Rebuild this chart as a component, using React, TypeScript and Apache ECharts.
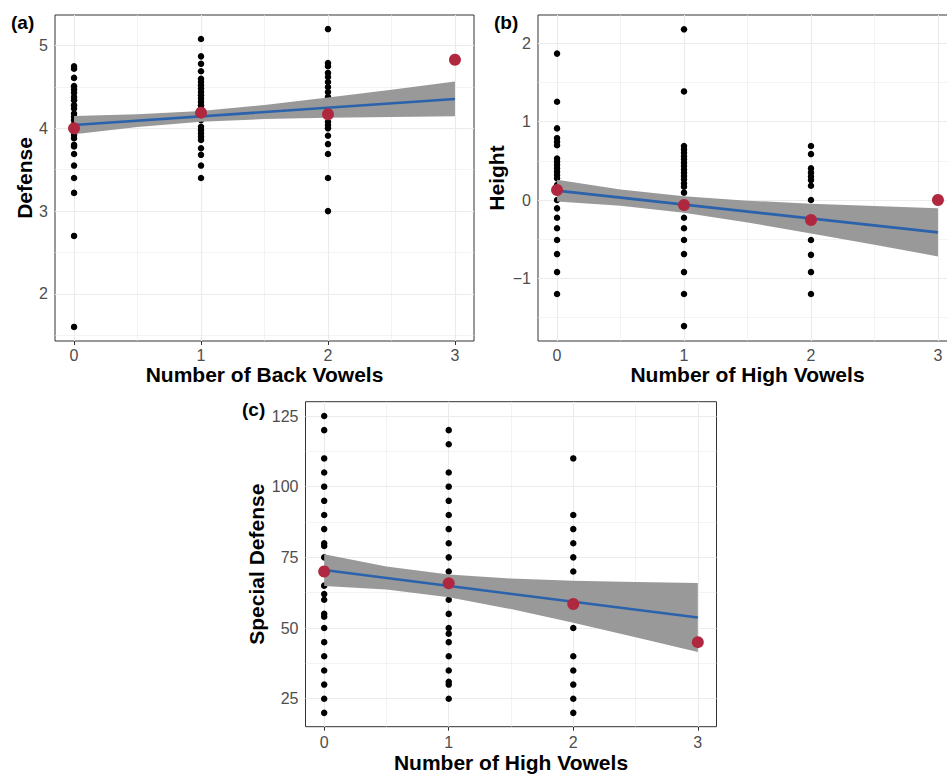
import React, { useEffect, useRef } from "react";
import * as echarts from "echarts";

// ---------- axis ticks / grid ----------
const xTicks = [0, 1, 2, 3];
const xMinor = [0.5, 1.5, 2.5];
const xRange = [-0.15, 3.15];

// (a) Defense vs Number of Back Vowels
const aTicks = [2, 3, 4, 5];
const aMinor = [1.5, 2.5, 3.5, 4.5];
const aRange = [1.43, 5.37];
const aPts0 = [4.75, 4.72, 4.61, 4.51, 4.47, 4.43, 4.38, 4.34, 4.28, 4.24, 4.18, 4.14, 4.1, 4.05, 4.0, 3.96, 3.92, 3.88, 3.8, 3.78, 3.69, 3.55, 3.4, 3.22, 2.7, 1.6];
const aPts1 = [5.08, 4.87, 4.78, 4.69, 4.6, 4.56, 4.52, 4.48, 4.44, 4.4, 4.36, 4.32, 4.28, 4.24, 4.19, 4.14, 4.1, 4.02, 3.98, 3.94, 3.9, 3.86, 3.76, 3.68, 3.55, 3.4];
const aPts2 = [5.2, 4.79, 4.75, 4.67, 4.62, 4.56, 4.5, 4.44, 4.38, 4.32, 4.14, 4.08, 4.04, 4.0, 3.91, 3.81, 3.69, 3.4, 3.0];
const aMeans = [4.0, 4.19, 4.17, 4.83];
const aFit = [4.04, 4.355];
const bandX = [0, 0.5, 1, 1.5, 2, 2.5, 3];
const aLo = [3.93, 4.016, 4.08, 4.112, 4.128, 4.138, 4.145];
const aHi = [4.15, 4.169, 4.21, 4.283, 4.372, 4.467, 4.565];

// (b) Height vs Number of High Vowels
const bTicks = [-1, 0, 1, 2];
const bMinor = [-1.5, -0.5, 0.5, 1.5];
const bRange = [-1.8, 2.363];
const bPts0 = [1.87, 1.255, 0.915, 0.79, 0.745, 0.7, 0.53, 0.49, 0.447, 0.404, 0.36, 0.32, 0.277, 0.19, 0.13, 0, -0.106, -0.226, -0.36, -0.51, -0.69, -0.92, -1.2];
const bPts1 = [2.18, 1.387, 0.69, 0.647, 0.604, 0.56, 0.52, 0.477, 0.434, 0.39, 0.35, 0.306, 0.264, 0.213, 0.17, 0.094, -0.226, -0.36, -0.51, -0.69, -0.92, -1.2, -1.61];
const bPts2 = [0.69, 0.587, 0.404, 0.35, 0.3, 0.255, 0.183, 0, -0.51, -0.7, -0.92, -1.2];
const bMeans = [0.128, -0.064, -0.255, 0];
const bFit = [0.12, -0.413];
const bLo = [-0.018, -0.073, -0.163, -0.286, -0.426, -0.571, -0.72];
const bHi = [0.258, 0.135, 0.047, -0.008, -0.046, -0.077, -0.106];

// (c) Special Defense vs Number of High Vowels
const cTicks = [25, 50, 75, 100, 125];
const cMinor = [37.5, 62.5, 87.5, 112.5];
const cRange = [15.1, 130.06];
const cPts0 = [125, 120, 110, 105, 100, 95, 90, 85, 80, 79, 75, 70, 65, 62, 60, 55, 54, 50, 45, 40, 35, 30, 25, 20];
const cPts1 = [120, 115, 105, 100, 95, 90, 85, 80, 75, 70, 65, 60, 55, 50, 48, 45, 40, 35, 31, 30, 25];
const cPts2 = [110, 90, 85, 80, 75, 70, 50, 40, 35, 30, 25, 20];
const cMeans = [70, 65.8, 58.5, 45];
const cFit = [70.5, 53.7];
const cLo = [64.9, 63.6, 60.9, 56.7, 51.9, 46.7, 41.5];
const cHi = [76.1, 71.8, 68.9, 67.5, 66.7, 66.3, 65.9];

const FONT = "'Liberation Sans', Arial, Helvetica, sans-serif";

function fmt(v: number) {
  return v < 0 ? "\u2212" + Math.abs(v) : String(v);
}

function App() {
  const ref = useRef<HTMLDivElement>(null);
  useEffect(() => {
    if (!ref.current) return;
    const chart = echarts.init(ref.current, null, { renderer: "svg" });

    const panels = [
      { grid: { left: 55, top: 15, width: 419, height: 326 }, xName: "Number of Back Vowels", yName: "Defense", yTicks: aTicks, yMinor: aMinor, yRange: aRange, groups: [aPts0, aPts1, aPts2], means: aMeans, fit: aFit, lo: aLo, hi: aHi, yGap: 19, xGap: 22, xMargin: 6 },
      { grid: { left: 538, top: 15, width: 419, height: 326 }, xName: "Number of High Vowels", yName: "Height", yTicks: bTicks, yMinor: bMinor, yRange: bRange, groups: [bPts0, bPts1, bPts2], means: bMeans, fit: bFit, lo: bLo, hi: bHi, yGap: 31, xGap: 22, xMargin: 6 },
      { grid: { left: 305.5, top: 401.7, width: 411, height: 325 }, xName: "Number of High Vowels", yName: "Special Defense", yTicks: cTicks, yMinor: cMinor, yRange: cRange, groups: [cPts0, cPts1, cPts2], means: cMeans, fit: cFit, lo: cLo, hi: cHi, yGap: 39, xGap: 24, xMargin: 8 },
    ];

    const grids: any[] = [];
    const xAxes: any[] = [];
    const yAxes: any[] = [];
    const series: any[] = [];

    panels.forEach((p, i) => {
      grids.push({
        ...p.grid,
        show: true,
        borderColor: "#333333",
        borderWidth: 1,
        backgroundColor: "#ffffff",
        containLabel: false,
        outerBoundsMode: "none",
      });
      const tickLabel = { color: "#4D4D4D", fontSize: 16, fontFamily: FONT };
      xAxes.push({
        type: "value",
        gridIndex: i,
        min: xRange[0],
        max: xRange[1],
        axisLine: { show: false },
        axisTick: { show: true, length: 4, customValues: xTicks, lineStyle: { color: "#333333", width: 1 } },
        axisLabel: { ...tickLabel, margin: p.xMargin, customValues: xTicks, formatter: (v: number) => fmt(v) },
        splitLine: { show: false },
        name: p.xName,
        nameLocation: "middle",
        nameGap: p.xGap,
        nameTextStyle: { color: "#000", fontSize: 21, fontWeight: "bold", fontFamily: FONT },
      });
      yAxes.push({
        type: "value",
        gridIndex: i,
        min: p.yRange[0],
        max: p.yRange[1],
        axisLine: { show: false },
        axisTick: { show: true, length: 4, customValues: p.yTicks, lineStyle: { color: "#333333", width: 1 } },
        axisLabel: { ...tickLabel, margin: 7, customValues: p.yTicks, formatter: (v: number) => fmt(v) },
        splitLine: { show: false },
        name: p.yName,
        nameLocation: "middle",
        nameRotate: 90,
        nameGap: p.yGap,
        nameTextStyle: { color: "#000", fontSize: 21, fontWeight: "bold", fontFamily: FONT },
      });

      // grid lines
      const gl = (arr: number[], key: string, w: number) =>
        arr.map((v) => ({ [key]: v, lineStyle: { width: w, color: "#EBEBEB", type: "solid" } }));
      series.push({
        type: "scatter",
        xAxisIndex: i,
        yAxisIndex: i,
        data: [],
        z: 1,
        silent: true,
        markLine: {
          z: 1,
          silent: true,
          symbol: "none",
          label: { show: false },
          emphasis: { disabled: true },
          animation: false,
          data: [
            ...gl(xMinor, "xAxis", 0.6),
            ...gl(p.yMinor, "yAxis", 0.6),
            ...gl(xTicks, "xAxis", 1.1),
            ...gl(p.yTicks, "yAxis", 1.1),
          ],
        },
      });

      // raw points
      const pts: number[][] = [];
      p.groups.forEach((g, gx) => g.forEach((v) => pts.push([gx, v])));
      series.push({
        type: "scatter",
        xAxisIndex: i,
        yAxisIndex: i,
        data: pts,
        symbolSize: 6.5,
        itemStyle: { color: "#000000", opacity: 1 },
        z: 2,
        silent: true,
      });

      // confidence band (polygon through library coords)
      const bandData = bandX.map((x, k) => [x, p.lo[k], p.hi[k]]);
      series.push({
        type: "custom",
        xAxisIndex: i,
        yAxisIndex: i,
        data: bandData,
        encode: { x: 0, y: [1, 2] },
        z: 3,
        silent: true,
        renderItem: (params: any, api: any) => {
          if (params.dataIndex !== 0) return null;
          const upper = bandData.map((d) => api.coord([d[0], d[2]]));
          const lower = bandData.map((d) => api.coord([d[0], d[1]])).reverse();
          return {
            type: "polygon",
            shape: { points: upper.concat(lower) },
            style: { fill: "#999999", stroke: "none" },
          };
        },
      });

      // fit line
      series.push({
        type: "line",
        xAxisIndex: i,
        yAxisIndex: i,
        data: [[0, p.fit[0]], [3, p.fit[1]]],
        symbol: "none",
        lineStyle: { color: "#2B62AC", width: 2.6 },
        z: 4,
        silent: true,
      });

      // means
      series.push({
        type: "scatter",
        xAxisIndex: i,
        yAxisIndex: i,
        data: p.means.map((v, k) => [xTicks[k], v]),
        symbolSize: 12,
        itemStyle: { color: "#B0283F", opacity: 1 },
        z: 5,
        silent: true,
      });
    });

    const lab = (text: string, x: number, y: number) => ({
      type: "text",
      x,
      y,
      style: { text, fontSize: 19, fontWeight: "bold", fontFamily: FONT, fill: "#000" },
    });

    chart.setOption({
      animation: false,
      backgroundColor: "#ffffff",
      grid: grids,
      xAxis: xAxes,
      yAxis: yAxes,
      series,
      graphic: [lab("(a)", 11, 13), lab("(b)", 494, 13), lab("(c)", 242, 400)],
    });
    return () => chart.dispose();
  }, []);
  return <div ref={ref} style={{ position: "fixed", left: 0, top: 0, width: 947, height: 776 }} />;
}

export default App;
